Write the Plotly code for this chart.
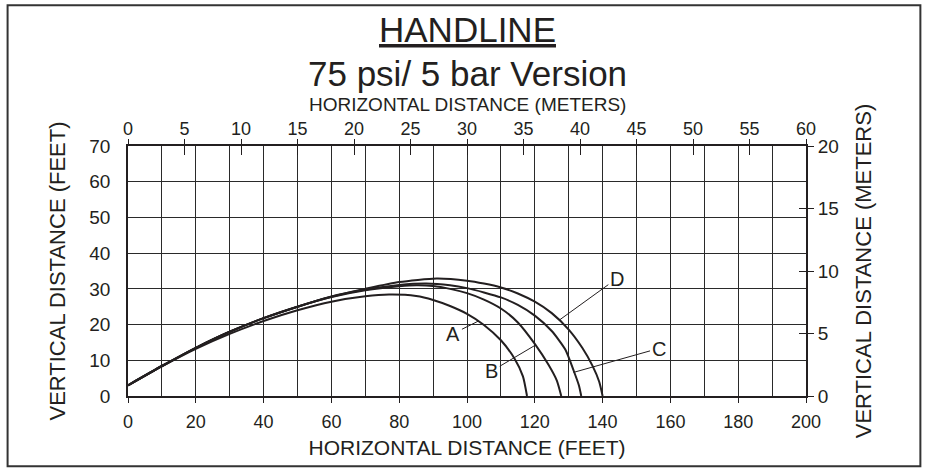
import plotly.graph_objects as go

# ---- data (feet) ----
A_x = [0, 10, 20, 30, 40, 50, 60, 70, 77, 85, 90, 95, 100, 105, 110, 114, 116.5, 117.7]
A_y = [3, 8.3, 13.2, 17.4, 21.0, 24.0, 26.4, 27.9, 28.4, 28.0, 26.9, 25.2, 23.0, 19.9, 15.6, 10.5, 5.5, 0]
B_x = [0, 10, 20, 30, 40, 50, 60, 70, 80, 85, 90, 95, 100, 105, 110, 115, 120, 124, 126.5, 127.8]
B_y = [3, 8.4, 13.5, 18.0, 21.8, 25.0, 27.7, 29.6, 30.7, 31.0, 30.8, 30.0, 28.8, 27.0, 24.5, 20.6, 14.6, 8.8, 4.3, 0]
C_x = [0, 10, 20, 30, 40, 50, 60, 70, 80, 88, 95, 100, 105, 110, 115, 120, 125, 129, 131.5, 133.0, 133.7]
C_y = [3, 8.4, 13.5, 18.0, 21.8, 25.0, 27.8, 29.8, 31.1, 31.5, 31.0, 30.2, 29.0, 27.6, 25.5, 22.5, 18.2, 13.0, 7.0, 3.0, 0]
D_x = [0, 10, 20, 30, 40, 50, 60, 70, 80, 91, 100, 105, 110, 115, 120, 125, 130, 134, 137, 139, 140]
D_y = [3, 8.4, 13.5, 18.0, 21.8, 25.0, 27.9, 30.0, 31.9, 32.9, 32.3, 31.5, 30.4, 28.7, 26.4, 23.2, 18.6, 13.5, 8.5, 4.0, 0]

curves = {"A": (A_x, A_y), "B": (B_x, B_y), "C": (C_x, C_y), "D": (D_x, D_y)}

# label text position and pointer tip (feet)
label_names = ["A", "B", "C", "D"]
label_text_x = [96, 107.3, 156.5, 144.2]
label_text_y = [17.5, 7.0, 13.3, 32.9]
label_tip_x = [103.4, 120.1, 131.4, 127.3]
label_tip_y = [21.0, 14.2, 6.6, 21.3]

X_FT_MAX = 200
Y_FT_MAX = 70
X_M_MAX = 60
Y_M_MAX = 20
x_ticks_ft = list(range(0, 201, 20))
y_ticks_ft = list(range(0, 71, 10))
x_ticks_m = list(range(0, 61, 5))
y_ticks_m = list(range(0, 21, 5))

INK = "#231f20"
GRID = "#2a2a2a"
SANS = "Liberation Sans, Arial, sans-serif"

fig = go.Figure()
for name, (xs, ys) in curves.items():
    fig.add_trace(go.Scatter(x=xs, y=ys, mode="lines", name=name,
                             line=dict(color=INK, width=2, shape="spline", smoothing=0.6),
                             hoverinfo="skip", showlegend=False))

# invisible traces to activate secondary axes
fig.add_trace(go.Scatter(x=[0, X_M_MAX], y=[0, 0], xaxis="x2", yaxis="y", mode="lines",
                         line=dict(width=0), opacity=0, hoverinfo="skip", showlegend=False))
fig.add_trace(go.Scatter(x=[0, X_M_MAX], y=[0, 0], xaxis="x3", yaxis="y", mode="lines",
                         line=dict(width=0), opacity=0, hoverinfo="skip", showlegend=False))
fig.add_trace(go.Scatter(x=[0, 0], y=[0, Y_M_MAX], xaxis="x", yaxis="y2", mode="lines",
                         line=dict(width=0), opacity=0, hoverinfo="skip", showlegend=False))
fig.add_trace(go.Scatter(x=[0, 0], y=[0, Y_M_MAX], xaxis="x", yaxis="y3", mode="lines",
                         line=dict(width=0), opacity=0, hoverinfo="skip", showlegend=False))

for i, n in enumerate(label_names):
    fig.add_annotation(x=label_tip_x[i], y=label_tip_y[i], ax=label_text_x[i], ay=label_text_y[i],
                       xref="x", yref="y", axref="x", ayref="y", text=n, showarrow=True,
                       arrowhead=0, arrowwidth=1, arrowcolor=INK,
                       font=dict(family=SANS, size=20, color=INK))

fig.add_annotation(x=0.5, y=1.467, xref="paper", yref="paper", text="<u>HANDLINE</u>",
                   showarrow=False, yanchor="middle", font=dict(family=SANS, size=35, color=INK))
fig.add_annotation(x=0.5, y=1.29, xref="paper", yref="paper", text="75 psi/ 5 bar Version",
                   showarrow=False, yanchor="middle", font=dict(family=SANS, size=35, color=INK))
fig.add_annotation(x=0.5, y=1.165, xref="paper", yref="paper", text="HORIZONTAL DISTANCE (METERS)",
                   showarrow=False, yanchor="middle", font=dict(family=SANS, size=19, color=INK))

fig.add_shape(type="rect", xref="paper", yref="paper", x0=-0.1776, x1=1.1687, y0=-0.281, y1=1.5628,
              line=dict(color="#333333", width=2))

fig.update_layout(
    width=927, height=468,
    margin=dict(l=128, r=121, t=146, b=72),
    paper_bgcolor="white", plot_bgcolor="white",
    showlegend=False,
    xaxis=dict(range=[0, X_FT_MAX], tickvals=x_ticks_ft, ticks="outside", ticklen=5, tickcolor=INK,
               showgrid=True, gridcolor=GRID, gridwidth=1,
               minor=dict(dtick=10, tick0=0, showgrid=True, gridcolor=GRID, gridwidth=1),
               showline=True, linecolor=INK, linewidth=1.5, mirror=True, zeroline=False,
               ticklabelstandoff=4,
               tickfont=dict(family=SANS, size=18, color=INK),
               title=dict(text="HORIZONTAL DISTANCE (FEET)", font=dict(family=SANS, size=21, color=INK), standoff=9)),
    xaxis2=dict(range=[0, X_M_MAX], overlaying="x", side="top", anchor="y", tickvals=x_ticks_m,
                ticks="outside", ticklen=6, tickcolor=INK, showgrid=False, zeroline=False,
                ticklabelstandoff=-3,
                tickfont=dict(family=SANS, size=18, color=INK)),
    xaxis3=dict(range=[0, X_M_MAX], overlaying="x", side="top", anchor="y", tickvals=x_ticks_m,
                ticks="inside", ticklen=9, tickcolor=INK, showgrid=False, zeroline=False,
                showticklabels=False),
    yaxis=dict(range=[0, Y_FT_MAX], tickvals=y_ticks_ft, ticks="", showgrid=True, gridcolor=GRID, gridwidth=1,
               showline=True, linecolor=INK, linewidth=1.5, mirror=True, zeroline=False,
               ticklabelstandoff=12,
               tickfont=dict(family=SANS, size=19, color=INK),
               title=dict(text="VERTICAL DISTANCE (FEET)", font=dict(family=SANS, size=22, color=INK), standoff=18)),
    yaxis2=dict(range=[0, Y_M_MAX], overlaying="y", side="right", anchor="x", tickvals=y_ticks_m,
                ticks="outside", ticklen=7, tickcolor=INK, showgrid=False, zeroline=False,
                tickfont=dict(family=SANS, size=19, color=INK),
                title=dict(text="VERTICAL DISTANCE (METERS)", font=dict(family=SANS, size=22, color=INK), standoff=17)),
    yaxis3=dict(range=[0, Y_M_MAX], overlaying="y", side="right", anchor="x", tickvals=y_ticks_m,
                ticks="inside", ticklen=7, tickcolor=INK, showgrid=False, zeroline=False,
                showticklabels=False),
)

fig.write_html("out.html", config={"displayModeBar": False},
               post_script="document.body.style.margin='0';")
